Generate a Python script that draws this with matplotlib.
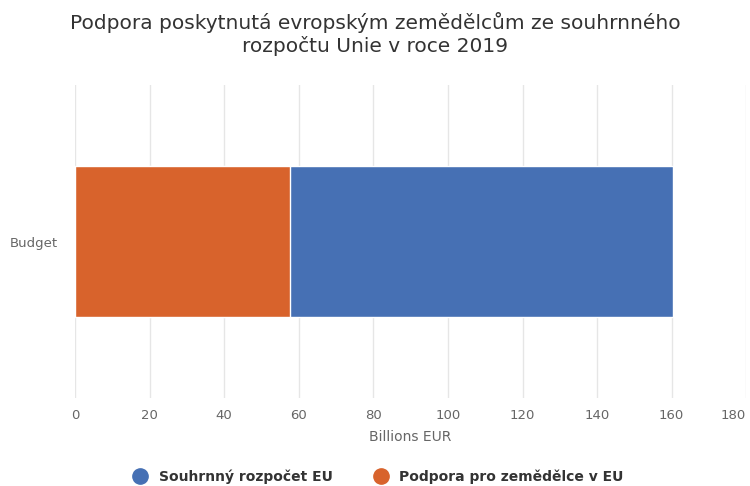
import numpy as np
from matplotlib import pyplot as plt
from matplotlib.lines import Line2D

categories=['Budget']
totalBudget=[160.3]
farmSupport=[57.6]
seriesNames=['Souhrnný rozpočet EU','Podpora pro zemědělce v EU']
xTicks=[0,20,40,60,80,100,120,140,160,180]

blue='#4670b4'
orange='#d8632c'

plt.rcParams['font.family']=['DejaVu Sans']
fig=plt.figure(figsize=(7.5,4.86),dpi=100)
ax=fig.add_axes([0.1,0.181,0.895,0.644])

y=np.arange(len(categories))
ax.barh(y,totalBudget,height=0.48,color=blue,edgecolor='white',linewidth=1,zorder=2)
ax.barh(y,farmSupport,height=0.48,color=orange,edgecolor='white',linewidth=1,zorder=3)

ax.set_xlim(0,180)
ax.set_ylim(-0.5,0.5)
ax.set_xticks(xTicks)
ax.set_xticklabels([str(t) for t in xTicks],color='#666666',fontsize=9.5)
ax.get_xticklabels()[-1].set_horizontalalignment('right')
ax.set_yticks(y)
ax.set_yticklabels(categories,color='#666666',fontsize=9.5)
ax.tick_params(axis='both',length=0,pad=8)
ax.grid(axis='x',color='#e6e6e6',linewidth=1,zorder=0)
ax.set_axisbelow(True)
for s in ax.spines.values():
    s.set_visible(False)
ax.set_xlabel('Billions EUR',color='#666666',fontsize=10,labelpad=6)
# category label sits at the far left like in the original
for t in ax.get_yticklabels():
    t.set_horizontalalignment('left')
    t.set_x(-0.097)
    t.set_transform(ax.get_yaxis_transform())

fig.suptitle('Podpora poskytnutá evropským zemědělcům ze souhrnného\nrozpočtu Unie v roce 2019',
             fontsize=14.5,color='#333333',y=0.975,linespacing=1.2)

handles=[Line2D([],[],marker='o',linestyle='',markersize=11,color=blue),
         Line2D([],[],marker='o',linestyle='',markersize=11,color=orange)]
leg=fig.legend(handles,seriesNames,loc='lower center',bbox_to_anchor=(0.5,-0.022),ncol=2,
               frameon=False,handletextpad=0.3,columnspacing=2.5,
               prop={'size':10,'weight':'bold'})
for t in leg.get_texts():
    t.set_color('#333333')

plt.savefig('out.png',dpi=100)
